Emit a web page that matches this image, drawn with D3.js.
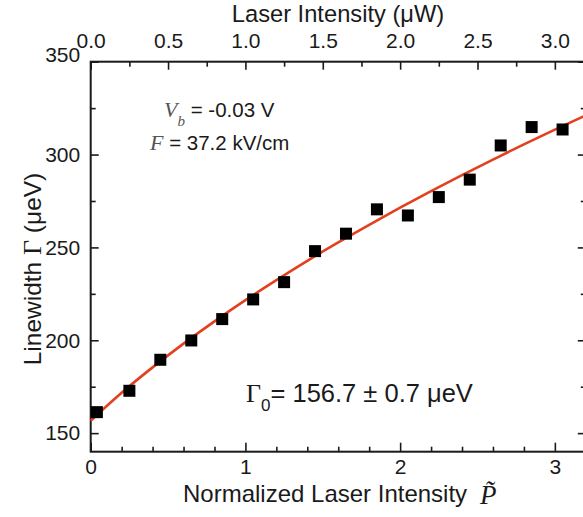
<!DOCTYPE html>
<html>
<head>
<meta charset="utf-8">
<script src="https://cdn.jsdelivr.net/npm/d3@7"></script>
<style>
  body { margin: 0; background: #fff; }
  svg text { font-family: "Liberation Sans", Arial, sans-serif; fill: #1a1a1a; }
  .serif { font-family: "Liberation Serif", "Times New Roman", serif; }
</style>
</head>
<body>
<div id="chart"></div>
<script>
// Measured linewidth vs normalized laser intensity
const intensity = [0.04, 0.25, 0.45, 0.65, 0.85, 1.05, 1.25, 1.45, 1.65, 1.85, 2.05, 2.25, 2.45, 2.65, 2.85, 3.05];
const linewidth = [161.3, 172.8, 189.5, 199.9, 211.4, 222.0, 231.3, 248.0, 257.4, 270.5, 267.2, 277.1, 286.5, 304.9, 314.8, 313.5];

// Fit curve
const fitX = [0, 0.2, 0.4, 0.6, 0.8, 1.0, 1.2, 1.4, 1.6, 1.8, 2.0, 2.2, 2.4, 2.6, 2.8, 3.0, 3.2];
const fitY = [156.7, 171.7, 185.4, 198.2, 210.2, 221.6, 232.4, 242.8, 252.7, 262.2, 271.4, 280.3, 288.9, 297.3, 305.5, 313.4, 321.1];

// Tick values
const bottomTicks = [0, 1, 2, 3];
const bottomMinor = [0.2, 0.4, 0.6, 0.8, 1.2, 1.4, 1.6, 1.8, 2.2, 2.4, 2.6, 2.8, 3.2];
const topTicks = [0.0, 0.5, 1.0, 1.5, 2.0, 2.5, 3.0];
const topMinor = [0.25, 0.75, 1.25, 1.75, 2.25, 2.75];
const yTicks = [150, 200, 250, 300, 350];
const yMinor = [175, 225, 275, 325];

const W = 583, H = 517;
const margin = {left: 90.7, top: 61.7, right: -2.8, bottom: 65.3};
const plotW = W - margin.left - margin.right;
const plotH = H - margin.top - margin.bottom;

const svg = d3.select("#chart").append("svg")
    .attr("width", W)
    .attr("height", H);

const g = svg.append("g")
    .attr("transform", "translate(" + margin.left + "," + margin.top + ")");

const xScale = d3.scaleLinear().domain([0, 3.2]).range([0, plotW]);
const xTop = d3.scaleLinear().domain([0, 3.2]).range([0, plotW]);
const yScale = d3.scaleLinear().domain([140, 350]).range([plotH, 0]);

const tickFont = 21;

function styleAxis(sel) {
    sel.select(".domain").remove();
    sel.selectAll(".tick line").attr("stroke", "#1a1a1a").attr("stroke-width", 1.6);
    sel.selectAll(".tick text").attr("font-size", tickFont).style("fill", "#1a1a1a");
}

// Bottom axis
g.append("g").attr("transform", "translate(0," + plotH + ")")
  .call(d3.axisBottom(xScale).tickValues(bottomMinor).tickSize(-5).tickFormat(""))
  .call(styleAxis);
g.append("g").attr("transform", "translate(0," + plotH + ")")
  .call(d3.axisBottom(xScale).tickValues(bottomTicks).tickSize(-9).tickPadding(7.5).tickFormat(d3.format("d")))
  .call(styleAxis);

// Top axis
g.append("g")
  .call(d3.axisTop(xTop).tickValues(topMinor).tickSize(-5).tickFormat(""))
  .call(styleAxis);
g.append("g")
  .call(d3.axisTop(xTop).tickValues(topTicks).tickSize(-8).tickPadding(13.5).tickFormat(d3.format(".1f")))
  .call(styleAxis);

// Left axis
g.append("g")
  .call(d3.axisLeft(yScale).tickValues(yMinor).tickSize(-5).tickFormat(""))
  .call(styleAxis);
const yAx = g.append("g")
  .call(d3.axisLeft(yScale).tickValues(yTicks).tickSize(-8).tickPadding(10.5).tickFormat(d3.format("d")))
  .call(styleAxis);
yAx.selectAll(".tick text").filter(d => d === 350).attr("y", -7);

// Right axis
g.append("g").attr("transform", "translate(" + plotW + ",0)")
  .call(d3.axisRight(yScale).tickValues(yMinor).tickSize(-5).tickFormat(""))
  .call(styleAxis);
g.append("g").attr("transform", "translate(" + plotW + ",0)")
  .call(d3.axisRight(yScale).tickValues(yTicks).tickSize(-8).tickFormat(""))
  .call(styleAxis);

// Frame
g.append("rect")
  .attr("x", 0).attr("y", 0)
  .attr("width", plotW).attr("height", plotH)
  .attr("fill", "none")
  .attr("stroke", "#1a1a1a")
  .attr("stroke-width", 2);

// Fit line
const line = d3.line()
    .x((d, i) => xScale(fitX[i]))
    .y(d => yScale(d))
    .curve(d3.curveNatural);
g.append("path")
  .datum(fitY)
  .attr("d", line)
  .attr("fill", "none")
  .attr("stroke", "#e2401f")
  .attr("stroke-width", 2.6);

// Data squares
const sq = 12;
g.append("g")
  .selectAll("rect")
  .data(intensity)
  .enter()
  .append("rect")
  .attr("x", d => xScale(d) - sq / 2)
  .attr("y", (d, i) => yScale(linewidth[i]) - sq / 2)
  .attr("width", sq)
  .attr("height", sq)
  .attr("fill", "#000");

// Axis titles
svg.append("text")
  .attr("x", 338).attr("y", 22)
  .attr("text-anchor", "middle")
  .attr("font-size", 23.7)
  .text("Laser Intensity (\u03BCW)");

svg.append("text")
  .attr("x", 183).attr("y", 501.5)
  .attr("font-size", 24)
  .text("Normalized Laser Intensity");
svg.append("text")
  .attr("class", "serif")
  .attr("x", 480).attr("y", 504)
  .attr("font-size", 27)
  .attr("font-style", "italic")
  .text("P\u0303");

const yTitle = svg.append("text")
  .attr("transform", "translate(41,269) rotate(-90)")
  .attr("text-anchor", "middle")
  .attr("font-size", 24.5);
yTitle.append("tspan").text("Linewidth ");
yTitle.append("tspan").attr("class", "serif").attr("font-size", 26).text("\u0393");
yTitle.append("tspan").text(" (\u03BCeV)");

// Annotations
const a1 = svg.append("text")
  .attr("x", 164).attr("y", 117)
  .attr("font-size", 20.5);
a1.append("tspan").attr("class", "serif").attr("font-style", "italic").attr("font-size", 22).style("fill", "#555").text("V");
a1.append("tspan").attr("class", "serif").attr("font-style", "italic").attr("font-size", 15).attr("dy", 9).style("fill", "#555").text("b");
a1.append("tspan").attr("dy", -9).text(" = -0.03 V");

const a2 = svg.append("text")
  .attr("x", 150).attr("y", 150)
  .attr("font-size", 20.5);
a2.append("tspan").attr("class", "serif").attr("font-style", "italic").attr("font-size", 22).style("fill", "#555").text("F");
a2.append("tspan").text(" = 37.2 kV/cm");

const a3 = svg.append("text")
  .attr("x", 246).attr("y", 401.5)
  .attr("font-size", 25.5);
a3.append("tspan").attr("class", "serif").attr("font-size", 26).text("\u0393");
a3.append("tspan").attr("font-size", 17).attr("dy", 9).text("0");
a3.append("tspan").attr("dy", -9).text("= 156.7 \u00B1 0.7 \u03BCeV");
</script>
</body>
</html>
